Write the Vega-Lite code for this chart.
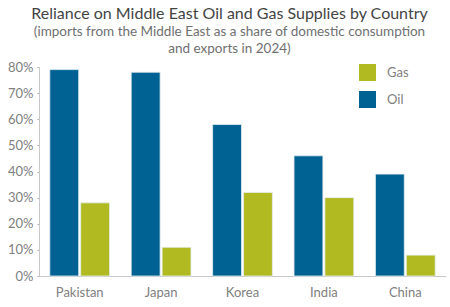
{
  "$schema": "https://vega.github.io/schema/vega-lite/v6.json",
  "width": 407,
  "height": 209,
  "autosize": {"type": "none"},
  "padding": {"left": 39, "top": 67, "right": 4, "bottom": 31},
  "background": "white",
  "title": {
    "text": "Reliance on Middle East Oil and Gas Supplies by Country",
    "subtitle": ["(imports from the Middle East as a share of domestic consumption", "and exports in 2024)"],
    "anchor": "middle",
    "dx": -13,
    "offset": 6,
    "font": "Lato",
    "fontSize": 16,
    "fontWeight": "normal",
    "color": "#444444",
    "subtitleFont": "Lato",
    "subtitleFontSize": 13.5,
    "subtitleColor": "#707070",
    "subtitlePadding": 3,
    "subtitleLineHeight": 17
  },
  "data": {
    "values": [
      {"country": "Pakistan", "fuel": "Oil", "share": 0.79},
      {"country": "Pakistan", "fuel": "Gas", "share": 0.28},
      {"country": "Japan", "fuel": "Oil", "share": 0.78},
      {"country": "Japan", "fuel": "Gas", "share": 0.11},
      {"country": "Korea", "fuel": "Oil", "share": 0.58},
      {"country": "Korea", "fuel": "Gas", "share": 0.32},
      {"country": "India", "fuel": "Oil", "share": 0.46},
      {"country": "India", "fuel": "Gas", "share": 0.30},
      {"country": "China", "fuel": "Oil", "share": 0.39},
      {"country": "China", "fuel": "Gas", "share": 0.08}
    ]
  },
  "mark": {"type": "bar", "stroke": "#e6eef3", "strokeWidth": 0.8},
  "encoding": {
    "x": {
      "field": "country",
      "type": "nominal",
      "sort": ["Pakistan", "Japan", "Korea", "India", "China"],
      "scale": {"paddingInner": 0, "paddingOuter": 0},
      "axis": {
        "title": null,
        "labelAngle": 0,
        "labelFont": "Lato",
        "labelFontSize": 13,
        "labelColor": "#808080",
        "labelPadding": 10,
        "ticks": false,
        "domainColor": "#c8c8c8",
        "domainWidth": 1
      }
    },
    "xOffset": {
      "field": "fuel",
      "type": "nominal",
      "sort": ["Oil", "Gas"],
      "scale": {"paddingInner": 0.065, "paddingOuter": 0.35}
    },
    "y": {
      "field": "share",
      "type": "quantitative",
      "scale": {"domain": [0, 0.8], "nice": false},
      "axis": {
        "title": null,
        "format": ".0%",
        "values": [0, 0.1, 0.2, 0.3, 0.4, 0.5, 0.6, 0.7, 0.8],
        "labelOverlap": false,
        "grid": false,
        "labelFont": "Lato",
        "labelFontSize": 13,
        "labelColor": "#808080",
        "labelPadding": 4,
        "tickSize": 2,
        "tickColor": "#b0b0b0",
        "domainColor": "#c8c8c8",
        "domainWidth": 1
      }
    },
    "color": {
      "field": "fuel",
      "type": "nominal",
      "scale": {"domain": ["Gas", "Oil"], "range": ["#b1bb21", "#006292"]},
      "legend": {
        "title": null,
        "orient": "none",
        "legendX": 320,
        "legendY": -3,
        "symbolType": "square",
        "symbolSize": 289,
        "symbolStrokeWidth": 0,
        "symbolOpacity": 1,
        "rowPadding": 10,
        "labelOffset": 11,
        "labelFont": "Lato",
        "labelFontSize": 13,
        "labelColor": "#808080"
      }
    }
  },
  "config": {"view": {"stroke": null}}
}
